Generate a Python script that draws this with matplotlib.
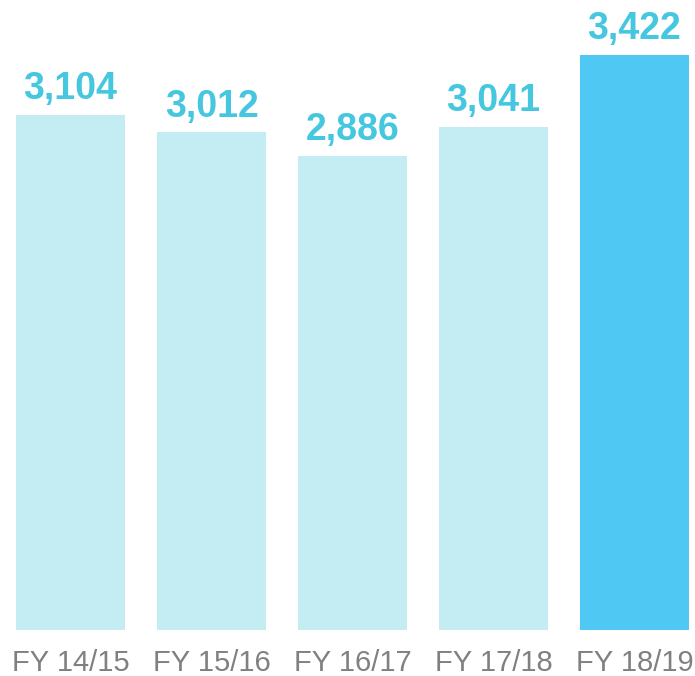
import matplotlib
matplotlib.use('Agg')
import matplotlib.pyplot as plt

# data
years = ['FY 14/15', 'FY 15/16', 'FY 16/17', 'FY 17/18', 'FY 18/19']
values = [3104, 3012, 2886, 3041, 3422]

LIGHT = '#C3EDF3'
HIGHLIGHT = '#4FC9F4'
LABEL = '#45C7E0'
GREY = '#808080'

plt.rcParams['font.family'] = ['Liberation Sans', 'DejaVu Sans']

fig = plt.figure(figsize=(6.95, 6.76), dpi=100)
ax = fig.add_axes([0, 46 / 676, 1, 630 / 676])

colors = [LIGHT] * (len(values) - 1) + [HIGHLIGHT]
x = range(len(years))
bars = ax.bar(x, values, width=109 / 141, color=colors)

for b, v in zip(bars, values):
    ax.annotate(f'{v:,}', (b.get_x() + b.get_width() / 2, v),
                xytext=(0, 5.5), textcoords='offset points',
                ha='center', va='bottom', fontsize=27, fontweight='bold', color=LABEL)

ax.set_xlim(-0.5, 4 + 60.5 / 141)
ax.set_ylim(375, 3713)
ax.set_xticks(list(x))
ax.set_xticklabels(years, fontsize=21, color=GREY)
ax.tick_params(axis='x', length=0, pad=14)
ax.set_yticks([])
for s in ax.spines.values():
    s.set_visible(False)

plt.savefig('out.png', dpi=100)
plt.close()
